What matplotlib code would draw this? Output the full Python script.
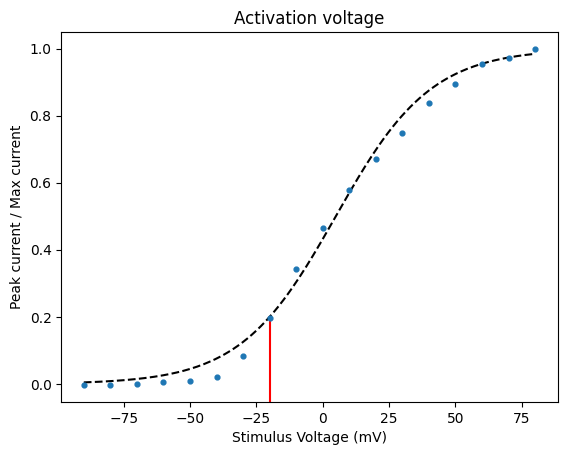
import numpy as np
import matplotlib
matplotlib.use("Agg")
import matplotlib.pyplot as plt

########## Data ##########
voltage = [-90, -80, -70, -60, -50, -40, -30, -20, -10, 0,
           10, 20, 30, 40, 50, 60, 70, 80]
norm_current = [-0.004, -0.004, 0.0, 0.005, 0.008, 0.02, 0.084, 0.197, 0.342,
                0.465, 0.578, 0.671, 0.748, 0.838, 0.895, 0.954, 0.972, 1.0]

##### Boltzmann fit parameters (estimated from the dashed curve) #####
v_half = 4.9
slope_k = 18.0
marker_v = -20          # red marker line
marker_top = 0.2


def boltzmann(v): return 1 / (1 + np.exp((v_half - v) / slope_k))


fig = plt.figure(figsize=(5.67, 4.55), dpi=100)
ax = fig.add_axes([0.108, 0.116, 0.8755, 0.813])

v_fit = np.linspace(min(voltage), max(voltage), 200)
ax.scatter(voltage, norm_current, s=12, color="#1f77b4", zorder=3)
ax.plot(v_fit, boltzmann(v_fit), "k--")

ax.set_ylim(-0.054, 1.049)
ax.plot([marker_v, marker_v], [-0.054, marker_top], color="red")

ax.set_title("Activation voltage")
ax.set_xlabel("Stimulus Voltage (mV)")
ax.set_ylabel("Peak current / Max current")

fig.savefig("out.png")
